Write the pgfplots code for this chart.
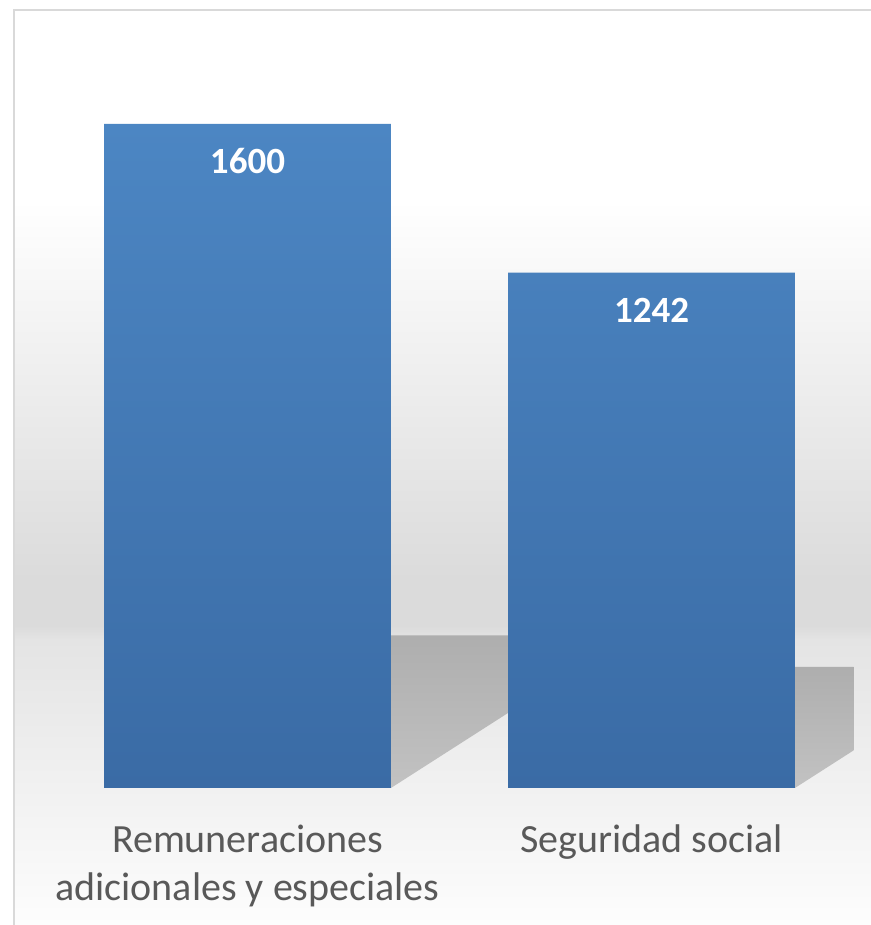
\documentclass[border=0pt]{standalone}
\usepackage{fontspec}
\setmainfont{Carlito}
\usepackage{pgfplots}
\pgfplotsset{compat=1.18}
\definecolor{bartop}{HTML}{4C86C3}
\definecolor{barbot}{HTML}{3A6BA5}
\definecolor{lbl}{HTML}{595959}
\definecolor{brd}{HTML}{D9D9D9}
\definecolor{bgdark}{HTML}{DBDBDB}
\definecolor{bglow}{HTML}{E4E4E4}
\definecolor{bgbot}{HTML}{FDFDFD}
\definecolor{shtop}{HTML}{AEAEAE}
\definecolor{shbot}{HTML}{C2C2C2}
\begin{document}
\begin{tikzpicture}
\begin{scope}[x=0.5pt,y=0.5pt]
\fill[top color=white,bottom color=bgdark] (14,345) rectangle (871,725);
\fill[bgdark] (14,299) rectangle (871,345.5);
\fill[top color=bgdark,bottom color=bglow] (14,285) rectangle (871,299.5);
\fill[top color=bglow,bottom color=bgbot] (14,0) rectangle (871,285.5);
\draw[brd,line width=1pt] (14,0) -- (14,915) -- (871,915);
\end{scope}
\begin{axis}[
  at={(22.75pt,68.5pt)},anchor=south west,
  scale only axis,width=404pt,height=373.5pt,
  xmin=-0.5,xmax=1.5,ymin=0,ymax=1800,
  axis line style={draw=none},tick style={draw=none},
  ytick=\empty,xtick={0,1},
  xticklabels={{\strut Remuneraciones\\adicionales y especiales},{\strut Seguridad social}},
  xticklabel style={font=\fontsize{20}{24}\selectfont,text=lbl,align=center,anchor=north,yshift=-15.2pt,inner sep=0pt},
]
\addplot[draw=none,top color=shtop,bottom color=shbot] coordinates {(-0.355,0) (0.355,0) (0.945,368) (0.235,368)} -- cycle;
\addplot[draw=none,top color=shtop,bottom color=shbot] coordinates {(0.645,0) (1.355,0) (1.823,292) (1.113,292)} -- cycle;
\addplot[ybar,bar width=0.71,bar shift=0,draw=none,top color=bartop,bottom color=barbot,
  nodes near coords={\pgfmathprintnumber[1000 sep={},assume math mode=true]{\pgfplotspointmeta}},
  every node near coord/.append style={font=\fontsize{18.5}{22}\selectfont\bfseries,text=white,anchor=base,yshift=-25pt,inner sep=0pt}]
  coordinates {(0,1600) (1,1242)};
\end{axis}
\pgfresetboundingbox
\path[use as bounding box] (0,0) rectangle (435.5pt,462.5pt);
\end{tikzpicture}
\end{document}
